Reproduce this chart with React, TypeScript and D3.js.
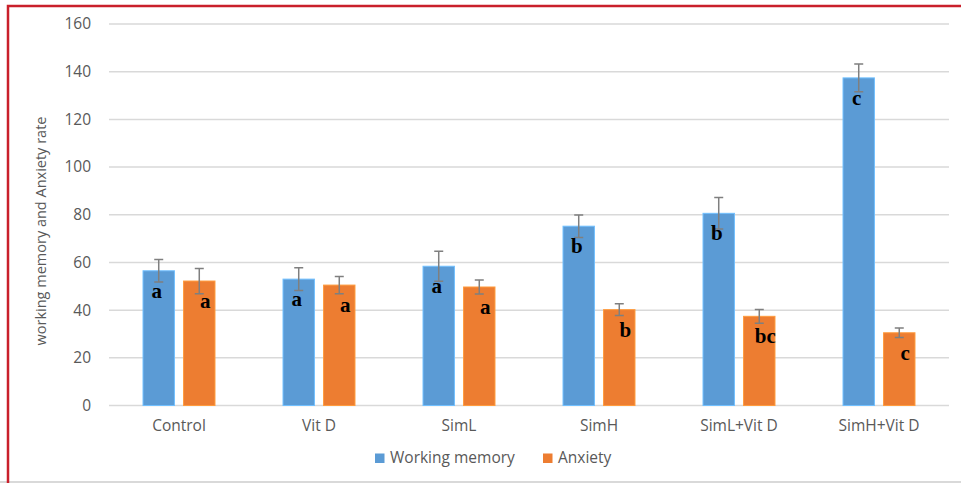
import { useEffect, useRef } from 'react';
import * as d3 from 'd3';

const categories = ['Control', 'Vit D', 'SimL', 'SimH', 'SimL+Vit D', 'SimH+Vit D'];
const seriesNames = ['Working memory', 'Anxiety'];
const workingMemory = [56.5, 53, 58.4, 75.2, 80.6, 137.4];
const workingMemoryErr = [4.7, 4.8, 6.3, 4.7, 6.6, 5.8];
const anxiety = [52.2, 50.5, 49.7, 40.2, 37.4, 30.5];
const anxietyErr = [5.3, 3.6, 2.9, 2.5, 2.9, 2];
const workingMemoryLetters = ['a', 'a', 'a', 'b', 'b', 'c'];
const anxietyLetters = ['a', 'a', 'a', 'b', 'bc', 'c'];
const yTicks = [0, 20, 40, 60, 80, 100, 120, 140, 160];

const colors = ['#5b9bd5', '#ed7d31'];
const W = 961;
const H = 483;
const font = '"Open Sans", "Liberation Sans", sans-serif';

export default function App() {
  const svgRef = useRef<SVGSVGElement>(null);

  useEffect(() => {
    if (!svgRef.current) return;
    const svg = d3.select(svgRef.current);
    svg.selectAll('*').remove();

    // frame
    svg.append('rect').attr('width', W).attr('height', H).attr('fill', '#fff');
    svg.append('line').attr('x1', 0).attr('x2', W).attr('y1', 482).attr('y2', 482)
      .attr('stroke', '#d9d9d9').attr('stroke-width', 2);
    svg.append('path').attr('d', `M8,${H} L8,6 L${W},6`)
      .attr('fill', 'none').attr('stroke', '#c9202b').attr('stroke-width', 2.5);

    const x0 = d3.scaleBand().domain(categories).range([109, 949]);
    const x1 = d3.scaleBand().domain(seriesNames)
      .range([x0.bandwidth() * 0.243, x0.bandwidth() * 0.757]).paddingInner(0.225);
    const y = d3.scaleLinear().domain([0, 160]).range([405.5, 24]);

    // grid
    svg.append('g').selectAll('line').data(yTicks).join('line')
      .attr('x1', 109).attr('x2', 949)
      .attr('y1', (d) => y(d)).attr('y2', (d) => y(d))
      .attr('stroke', '#d9d9d9').attr('stroke-width', 1.5);

    // y axis labels
    svg.append('g').selectAll('text').data(yTicks).join('text')
      .attr('x', 91).attr('y', (d) => y(d)).attr('dy', '0.35em')
      .attr('text-anchor', 'end').attr('font-family', font).attr('font-size', 15.5)
      .attr('fill', '#595959').text((d) => d);

    svg.append('text')
      .attr('transform', `translate(46,231) rotate(-90)`)
      .attr('text-anchor', 'middle').attr('font-family', font).attr('font-size', 14.5)
      .attr('fill', '#595959').text('working memory and Anxiety rate');

    // x axis labels
    svg.append('g').selectAll('text').data(categories).join('text')
      .attr('x', (d) => (x0(d) ?? 0) + x0.bandwidth() / 2).attr('y', 431)
      .attr('text-anchor', 'middle').attr('font-family', font).attr('font-size', 15.5)
      .attr('fill', '#595959').text((d) => d);

    const series = [
      { name: seriesNames[0], values: workingMemory, err: workingMemoryErr, letters: workingMemoryLetters, dx: -2, color: colors[0] },
      { name: seriesNames[1], values: anxiety, err: anxietyErr, letters: anxietyLetters, dx: 6, color: colors[1] },
    ];

    series.forEach((s) => {
      const g = svg.append('g');
      const bx = (i: number) => (x0(categories[i]) ?? 0) + (x1(s.name) ?? 0);
      const cx = (i: number) => bx(i) + x1.bandwidth() / 2;
      const idx = categories.map((_, i) => i);

      g.selectAll('rect').data(idx).join('rect')
        .attr('x', (i) => bx(i)).attr('y', (i) => y(s.values[i]))
        .attr('width', x1.bandwidth()).attr('height', (i) => y(0) - y(s.values[i]))
        .attr('fill', s.color)
        .attr('stroke', d3.color(s.color)!.brighter(0.6).formatHex())
        .attr('stroke-width', 1);

      // error bars
      const eg = g.append('g').attr('stroke', '#7f7f7f').attr('stroke-width', 1.5).attr('fill', 'none');
      eg.selectAll('path').data(idx).join('path')
        .attr('d', (i) => {
          const c = cx(i);
          const t = y(s.values[i] + s.err[i]);
          const b = y(s.values[i] - s.err[i]);
          return `M${c - 4.5},${t}H${c + 4.5}M${c},${t}V${b}M${c - 4.5},${b}H${c + 4.5}`;
        });

      // significance letters
      g.selectAll('text').data(idx).join('text')
        .attr('x', (i) => cx(i) + s.dx).attr('y', (i) => y(s.values[i]) + 27)
        .attr('text-anchor', 'middle')
        .attr('font-family', '"Liberation Serif", "Times New Roman", serif')
        .attr('font-weight', 'bold').attr('font-size', 21).attr('fill', '#000')
        .text((i) => s.letters[i]);
    });

    // legend
    const legend = [
      { name: seriesNames[0], x: 375, color: colors[0] },
      { name: seriesNames[1], x: 543, color: colors[1] },
    ];
    const lg = svg.append('g');
    legend.forEach((l) => {
      lg.append('rect').attr('x', l.x).attr('y', 453.5).attr('width', 9.5).attr('height', 9.5).attr('fill', l.color);
      lg.append('text').attr('x', l.x + 15).attr('y', 458).attr('dy', '0.35em')
        .attr('font-family', font).attr('font-size', 15.5).attr('fill', '#595959').text(l.name);
    });
  }, []);

  return (
    <svg
      ref={svgRef}
      width={W}
      height={H}
      style={{ position: 'absolute', left: 0, top: 0, display: 'block' }}
    />
  );
}
